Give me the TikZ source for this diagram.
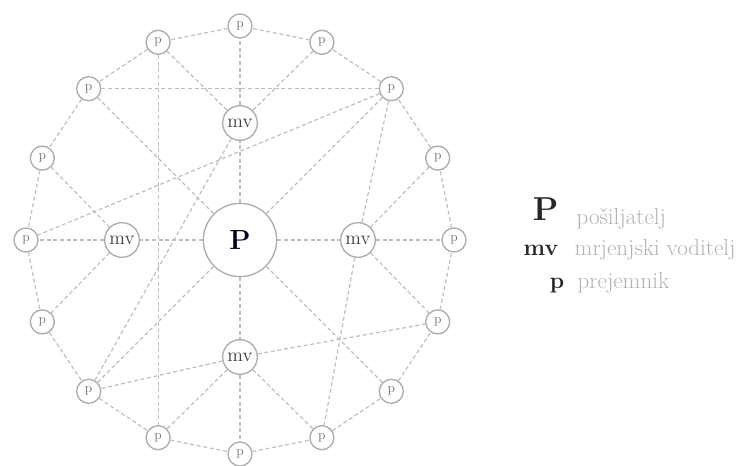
\documentclass[tikz,border=0pt]{standalone}
\usetikzlibrary{positioning,calc}
\begin{document}
\begin{tikzpicture}[x=0.75pt, y=0.75pt,
          link/.style={draw=gray!50, line width=0.9pt, dash pattern=on 3pt off 2pt},
          recv/.style={circle, draw=gray!65, line width=1pt, fill=white, minimum size=18pt, inner sep=0pt, font=\normalsize, text=gray!90!black},
          relay/.style={circle, draw=gray!65, line width=1pt, fill=white, minimum size=26pt, inner sep=0pt, font=\Large, text=black!75},
          sender/.style={circle, draw=gray!65, line width=1pt, fill=white, minimum size=55pt, inner sep=0pt, font=\huge\bfseries, text=black!85!blue},
          keysym/.style={anchor=base east, font=\bfseries, text=black!85},
          keytxt/.style={anchor=base west, font=\LARGE, text=gray!60}]
        \useasboundingbox (0,0) rectangle (746,465);
        \coordinate (C) at (240,225);
        \node[sender] (P) at (C) {P};
        \node[relay] (mvN) at ($(C)+(90:117)$) {mv};
        \node[relay] (mvW) at ($(C)+(180:118)$) {mv};
        \node[relay] (mvE) at ($(C)+(0:118)$) {mv};
        \node[relay] (mvS) at ($(C)+(270:117)$) {mv};
        \foreach \i in {0,...,15}
          \node[recv] (p\i) at ($(C)+(\i*22.5:214)$) {p};
        \foreach \i [evaluate=\i as \j using {int(mod(\i+1,16))}] in {0,...,15}
          \draw[link] (p\i) -- (p\j);
        \draw[link] (P) -- (mvN);
        \draw[link] (P) -- (mvW);
        \draw[link] (P) -- (mvE);
        \draw[link] (P) -- (mvS);
        \draw[link] (mvN) -- (p4);
        \draw[link] (mvW) -- (p8);
        \draw[link] (mvE) -- (p0);
        \draw[link] (mvS) -- (p12);
        \draw[link] (p6) -- (p2);
        \draw[link] (p5) -- (mvN);
        \draw[link] (p3) -- (mvN);
        \draw[link] (p5) -- (p11);
        \draw[link] (p6) -- (P);
        \draw[link] (p2) -- (P);
        \draw[link] (p2) -- (p8);
        \draw[link] (mvN) -- (p10);
        \draw[link] (p2) -- (mvE);
        \draw[link] (p1) -- (mvE);
        \draw[link] (p7) -- (mvW);
        \draw[link] (mvW) -- (p9);
        \draw[link] (P) -- (p10);
        \draw[link] (mvS) -- (p10);
        \draw[link] (mvS) -- (p11);
        \draw[link] (mvS) -- (p13);
        \draw[link] (mvS) -- (p15);
        \draw[link] (mvE) -- (p13);
        \draw[link] (mvE) -- (p15);
        \draw[link] (P) -- (p14);
        \node[keysym, font=\Huge\bfseries] (kP) at (563,245) {P};
        \node[keytxt] (tP) at (572,241) {pošiljatelj};
        \node[keysym, font=\LARGE\bfseries] (kmv) at (563,210) {mv};
        \node[keytxt] (tmv) at (570,210) {mrjenjski voditelj};
        \node[keysym, font=\LARGE\bfseries] (kp) at (569,177) {p};
        \node[keytxt] (tp) at (573,177) {prejemnik};
      \end{tikzpicture}
\end{document}
